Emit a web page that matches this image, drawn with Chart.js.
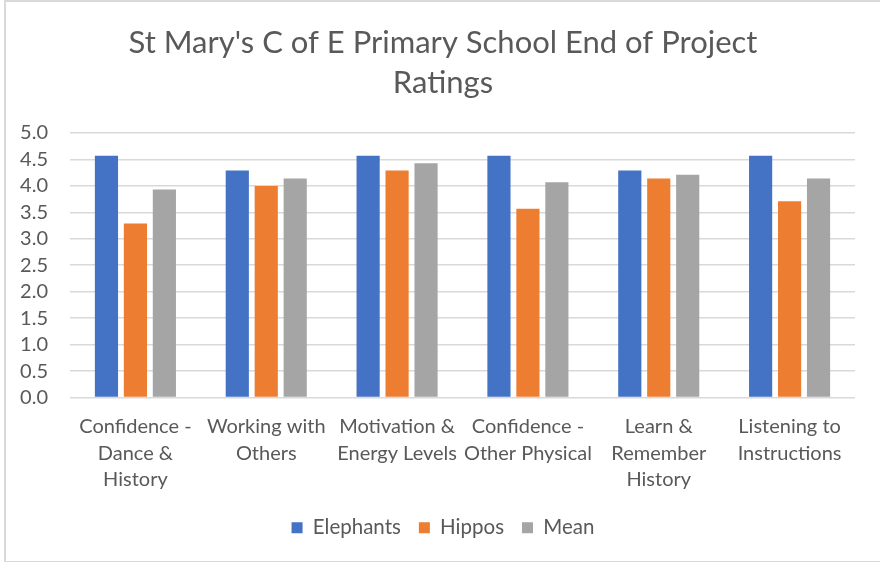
<!DOCTYPE html>
<html>
<head>
<meta charset="utf-8">
<script src="https://cdn.jsdelivr.net/npm/chart.js@4.4.1/dist/chart.umd.min.js"></script>
<style>
  html, body { margin: 0; padding: 0; background: #fff; }
  #wrap {
    position: absolute; left: 4px; top: 0; width: 876px; height: 559px;
    border-left: 2px solid #d9d9d9; border-top: 2px solid #d9d9d9; border-bottom: 2px solid #d9d9d9;
  }
</style>
</head>
<body>
<div id="wrap"><canvas id="ratingsChart" width="874" height="559"></canvas></div>
<script>
// Categories and series values
const categories = [
    ['Confidence -', 'Dance &', 'History'],
    ['Working with', 'Others'],
    ['Motivation &', 'Energy Levels'],
    ['Confidence -', 'Other Physical'],
    ['Learn &', 'Remember', 'History'],
    ['Listening to', 'Instructions']
];
const elephants = [4.57, 4.29, 4.57, 4.57, 4.29, 4.57];
const hippos = [3.29, 4.00, 4.29, 3.57, 4.14, 3.71];
const mean = [3.93, 4.14, 4.43, 4.07, 4.21, 4.14];

const textColor = '#595959';
const fontFamily = 'Lato, "Open Sans", sans-serif';

Chart.defaults.font.family = fontFamily;
Chart.defaults.color = textColor;

// y tick labels reach left of the padded area, so widen their clip box
const unclipYLabels = {
    id: 'unclipYLabels',
    afterLayout(chart) {
        chart.scales.y.left = 0;
    }
};

new Chart(document.getElementById('ratingsChart'), {
    type: 'bar',
    data: {
        labels: categories,
        datasets: [
            { label: 'Elephants', data: elephants, backgroundColor: '#4472c4' },
            { label: 'Hippos', data: hippos, backgroundColor: '#ed7d31' },
            { label: 'Mean', data: mean, backgroundColor: '#a5a5a5' }
        ]
    },
    plugins: [unclipYLabels],
    options: {
        responsive: false,
        animation: false,
        categoryPercentage: 0.664,
        barPercentage: 0.8,
        layout: { padding: { left: 25, right: 25, top: 21, bottom: 13 } },
        plugins: {
            title: {
                display: true,
                text: ["St Mary's C of E Primary School End of Project", 'Ratings'],
                font: { size: 31, weight: 'normal', lineHeight: 1.29 },
                color: textColor,
                padding: { top: 0, bottom: 30 }
            },
            legend: {
                position: 'bottom',
                labels: {
                    boxWidth: 11,
                    boxHeight: 11,
                    font: { size: 20.5 },
                    padding: 18
                }
            },
            tooltip: { enabled: false }
        },
        scales: {
            x: {
                grid: { display: false },
                border: { display: false },
                ticks: {
                    font: { size: 20, lineHeight: 1.33 },
                    maxRotation: 0,
                    autoSkip: false,
                    padding: 8
                },
                afterFit: scale => { scale.height = 102; }
            },
            y: {
                min: 0,
                max: 5,
                ticks: {
                    stepSize: 0.5,
                    autoSkip: false,
                    font: { size: 20 },
                    padding: 22,
                    callback: v => v.toFixed(1)
                },
                grid: { color: '#d9d9d9', lineWidth: 1.5, drawTicks: false },
                border: { display: false },
                afterFit: scale => { scale.width = 39; }
            }
        }
    }
});
</script>
</body>
</html>
